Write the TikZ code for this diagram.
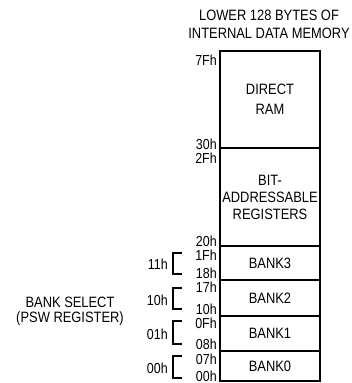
\documentclass[tikz,border=0pt]{standalone}
\usepackage{fontspec}
\setmainfont{Liberation Sans}[FakeStretch=0.86]
\begin{document}
\begin{tikzpicture}[x=1pt,y=-1pt,font=\fontsize{15}{17}\selectfont,
  block/.style={draw,line width=2.4pt,minimum width=100pt,inner sep=0pt,align=center},
  addr/.style={anchor=east,inner sep=0pt,font=\fontsize{14.5}{15}\selectfont},
  bracket/.style={line width=1.8pt}]
\useasboundingbox (0,0) rectangle (352,383);

% title
\node[align=center,font=\fontsize{15}{18}\selectfont] (title) at (269,24) {LOWER 128 BYTES OF\\INTERNAL DATA MEMORY};

% memory blocks
\node[block,minimum height=97pt,font=\fontsize{15}{20}\selectfont] (ram) at (270,99.5) {DIRECT\\RAM};
\node[block,minimum height=98pt] (bit) at (270,197) {BIT-\\ADDRESSABLE\\REGISTERS};
\node[block,minimum height=34pt] (bank3) at (270,263) {BANK3};
\node[block,minimum height=36pt] (bank2) at (270,298) {BANK2};
\node[block,minimum height=35pt] (bank1) at (270,333.5) {BANK1};
\node[block,minimum height=30pt] (bank0) at (270,366) {BANK0};

% addresses
\node[addr] at (217,60) {7Fh};
\node[addr] at (217,144) {30h};
\node[addr] at (217,158) {2Fh};
\node[addr] at (217,241) {20h};
\node[addr] at (217,255) {1Fh};
\node[addr] at (217,273) {18h};
\node[addr] at (217,287) {17h};
\node[addr] at (217,309) {10h};
\node[addr] at (217,323) {0Fh};
\node[addr] at (217,344) {08h};
\node[addr] at (217,359) {07h};
\node[addr] at (217,376) {00h};

% bank select
\foreach \y/\t/\b/\v in {253/274/264/11h, 288/309/300/10h, 321/344/334/01h, 356/378/368/00h}{
  \draw[bracket] (182,\y) -- (173,\y) -- (173,\t) -- (182,\t);
  \node[addr] at (168,\b) {\v};
}
\node[align=center,font=\fontsize{15}{15}\selectfont] (psw) at (70,311.5) {BANK SELECT\\(PSW REGISTER)};
\end{tikzpicture}
\end{document}
